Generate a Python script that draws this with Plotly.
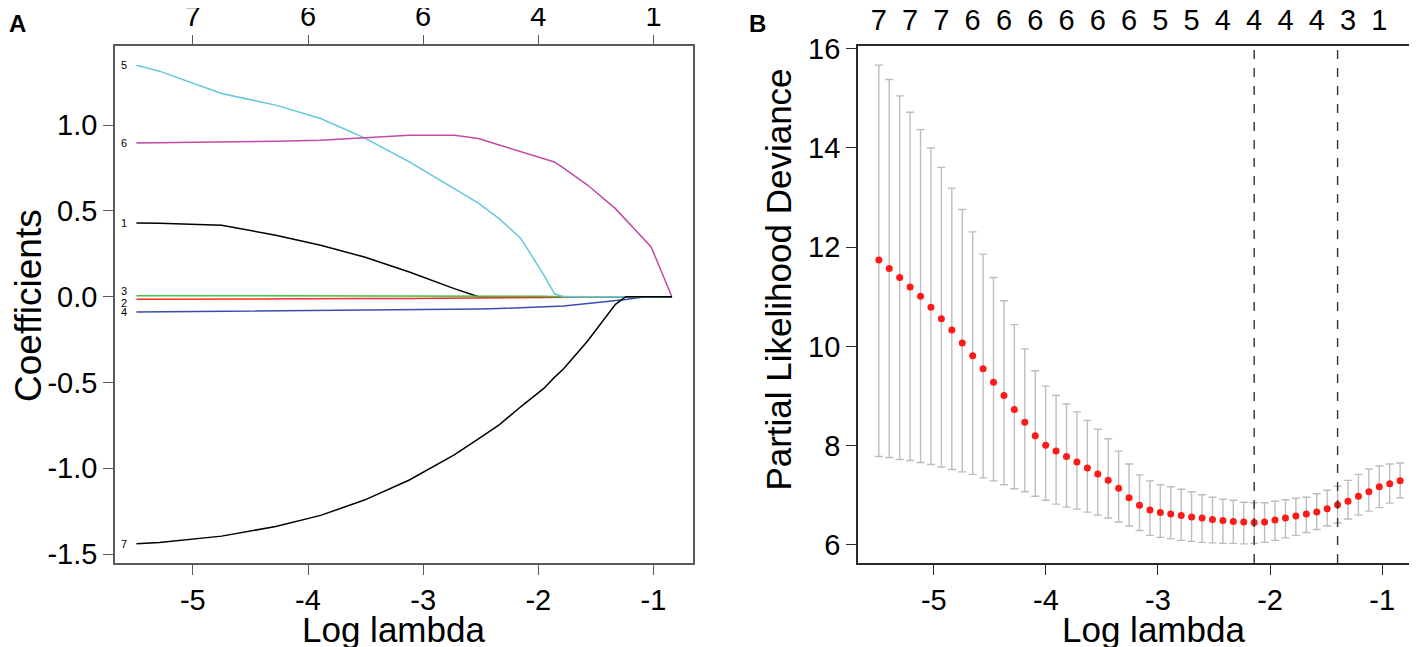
"""LASSO coefficient paths (A) and cross-validated partial likelihood deviance (B)."""

import numpy as np
import plotly.graph_objects as go

FONT = "Liberation Sans, Arial, sans-serif"

# ---- Panel A: coefficient paths -------------------------------------------
lam_a = [-5.49, -5.29, -4.75, -4.28, -3.89, -3.51, -3.12, -2.73, -2.52, -2.34,
         -2.15, -1.95, -1.86, -1.78, -1.57, -1.33, -1.24, -1.12, -1.02, -0.84]

coef_1 = [0.430, 0.428, 0.416, 0.358, 0.300, 0.231, 0.144, 0.047, 0.0, 0.0,
          0.0, 0.0, 0.0, 0.0, 0.0, 0.0, 0.0, 0.0, 0.0, 0.0]
coef_2 = [-0.015, -0.015, -0.014, -0.013, -0.012, -0.011, -0.010, -0.008, -0.007, -0.006,
          -0.004, -0.002, -0.001, 0.0, 0.0, 0.0, 0.0, 0.0, 0.0, 0.0]
coef_3 = [0.006, 0.006, 0.006, 0.006, 0.005, 0.005, 0.005, 0.004, 0.004, 0.004,
          0.003, 0.002, 0.001, 0.0, 0.0, 0.0, 0.0, 0.0, 0.0, 0.0]
coef_4 = [-0.089, -0.088, -0.086, -0.084, -0.082, -0.080, -0.077, -0.074, -0.072, -0.069,
          -0.065, -0.060, -0.057, -0.054, -0.039, -0.025, -0.017, -0.005, 0.0, 0.0]
coef_5 = [1.349, 1.314, 1.184, 1.116, 1.038, 0.925, 0.785, 0.630, 0.545, 0.455,
          0.338, 0.124, 0.017, 0.0, 0.0, 0.0, 0.0, 0.0, 0.0, 0.0]
coef_6 = [0.896, 0.897, 0.900, 0.905, 0.912, 0.925, 0.940, 0.941, 0.922, 0.884,
          0.845, 0.804, 0.785, 0.749, 0.649, 0.513, 0.449, 0.367, 0.290, 0.0]
coef_7 = [-1.440, -1.432, -1.395, -1.339, -1.274, -1.185, -1.068, -0.922, -0.828, -0.747,
          -0.640, -0.533, -0.470, -0.420, -0.257, -0.045, 0.0, 0.0, 0.0, 0.0]

var_names = ["1", "2", "3", "4", "5", "6", "7"]
top_a_ticks = [-5, -4, -3, -2, -1]
top_a_labels = ["7", "6", "6", "4", "1"]

# ---- Panel B: cross-validation curve ----------------------------------------
lam_b = [-5.490, -5.397, -5.304, -5.211, -5.118, -5.025, -4.932, -4.839, -4.746, -4.653,
         -4.560, -4.467, -4.374, -4.281, -4.188, -4.095, -4.002, -3.909, -3.816, -3.723,
         -3.630, -3.537, -3.444, -3.351, -3.258, -3.165, -3.072, -2.979, -2.886, -2.793,
         -2.700, -2.607, -2.514, -2.421, -2.328, -2.235, -2.142, -2.049, -1.956, -1.863,
         -1.770, -1.677, -1.584, -1.491, -1.398, -1.305, -1.212, -1.119, -1.026, -0.933,
         -0.840]
cvm = [11.74, 11.57, 11.39, 11.20, 11.01, 10.79, 10.56, 10.33, 10.07, 9.81,
       9.55, 9.28, 9.01, 8.73, 8.47, 8.20, 8.01, 7.89, 7.78, 7.67,
       7.55, 7.43, 7.30, 7.14, 6.95, 6.80, 6.70, 6.65, 6.62, 6.59,
       6.56, 6.54, 6.51, 6.49, 6.47, 6.46, 6.45, 6.46, 6.50, 6.54,
       6.58, 6.62, 6.66, 6.73, 6.81, 6.88, 6.98, 7.07, 7.17, 7.23,
       7.29]
cvup = [15.67, 15.38, 15.05, 14.72, 14.37, 14.00, 13.61, 13.19, 12.76, 12.31,
        11.86, 11.39, 10.92, 10.44, 9.95, 9.51, 9.20, 9.01, 8.84, 8.68,
        8.51, 8.33, 8.14, 7.89, 7.63, 7.41, 7.29, 7.21, 7.17, 7.12,
        7.07, 7.01, 6.96, 6.92, 6.90, 6.86, 6.85, 6.85, 6.88, 6.91,
        6.94, 6.96, 7.03, 7.10, 7.18, 7.30, 7.42, 7.53, 7.59, 7.63,
        7.65]
cvlo = [7.78, 7.76, 7.72, 7.70, 7.66, 7.62, 7.57, 7.52, 7.47, 7.42,
        7.35, 7.29, 7.21, 7.13, 7.07, 6.98, 6.90, 6.82, 6.76, 6.72,
        6.66, 6.60, 6.54, 6.46, 6.38, 6.29, 6.19, 6.15, 6.12, 6.09,
        6.07, 6.05, 6.04, 6.03, 6.03, 6.02, 6.03, 6.05, 6.09, 6.14,
        6.19, 6.25, 6.31, 6.38, 6.44, 6.52, 6.60, 6.68, 6.75, 6.84,
        6.95]
top_b_labels = ["7", "7", "7", "6", "6", "6", "6", "6", "6", "5", "5", "4", "4", "4", "4", "3", "1"]
log_lambda_min = -2.142
log_lambda_1se = -1.398


def r_range(values):
    """R style axis range: data extent padded by 4% on each side."""
    lo, hi = float(np.min(values)), float(np.max(values))
    pad = (hi - lo) * 0.04
    return [lo - pad, hi + pad]


coefs = [coef_1, coef_2, coef_3, coef_4, coef_5, coef_6, coef_7]
colors = ["#000000", "#FF2A2A", "#3CC43C", "#3A4CB0", "#62C8DA", "#C24AA6", "#000000"]
label_yshift = [0, -4, 5, 0, 0, 0, 0]

fig = go.Figure()

for name, ys, col in zip(var_names, coefs, colors):
    fig.add_trace(go.Scatter(x=lam_a, y=ys, mode="lines", line=dict(color=col, width=1.5),
                             name=name, xaxis="x", yaxis="y", showlegend=False))

cvm_arr = np.array(cvm)
fig.add_trace(go.Scatter(
    x=lam_b, y=cvm, mode="markers", xaxis="x2", yaxis="y2", showlegend=False,
    marker=dict(color="#FF1A1A", size=7),
    error_y=dict(type="data", symmetric=False,
                 array=np.array(cvup) - cvm_arr, arrayminus=cvm_arr - np.array(cvlo),
                 color="#BDBDBD", thickness=1.4, width=4),
))

# empty traces so the top axes get their own subplots
fig.add_trace(go.Scatter(x=[], y=[], xaxis="x3", yaxis="y", showlegend=False))
fig.add_trace(go.Scatter(x=[], y=[], xaxis="x4", yaxis="y2", showlegend=False))

xr_a = r_range(lam_a)
yr_a = r_range(np.concatenate(coefs))
xr_b = r_range(lam_b)
yr_b = r_range(np.concatenate([cvup, cvlo]))

tick_font = dict(family=FONT, size=29, color="black")
gray_a = "#5A5A5A"
gray_b = "#2A2A2A"

common = dict(showgrid=False, zeroline=False, showline=True, mirror=True, automargin=False,
              ticks="outside", ticklen=10, tickfont=tick_font)
top_common = dict(showgrid=False, zeroline=False, showline=False, automargin=False,
                  ticks="outside", tickfont=tick_font)

fig.update_layout(
    width=1417, height=647,
    margin=dict(l=107, r=4, t=38, b=92, autoexpand=False),
    plot_bgcolor="white", paper_bgcolor="white",
    font=dict(family=FONT, color="black"),
    xaxis=dict(domain=[0, 0.4428], anchor="y", range=xr_a, tickvals=[-5, -4, -3, -2, -1],
               ticktext=["-5", "-4", "-3", "-2", "-1"], linecolor=gray_a, tickcolor=gray_a,
               linewidth=1.6, tickwidth=1.4, **common),
    yaxis=dict(domain=[0, 1], anchor="x", range=yr_a, tickvals=[-1.5, -1.0, -0.5, 0.0, 0.5, 1.0],
               ticktext=["-1.5", "-1.0", "-0.5", "0.0", "0.5", "1.0"], linecolor=gray_a,
               tickcolor=gray_a, linewidth=1.6, tickwidth=1.4, **common),
    xaxis3=dict(overlaying="x", side="top", anchor="y", range=xr_a, tickvals=top_a_ticks,
                ticktext=top_a_labels, ticklen=10, tickcolor=gray_a, tickwidth=1.4,
                ticklabelstandoff=-3, **top_common),
    xaxis2=dict(domain=[0.5689, 1], anchor="y2", range=xr_b, tickvals=[-5, -4, -3, -2, -1],
                ticktext=["-5", "-4", "-3", "-2", "-1"], linecolor=gray_b, tickcolor=gray_b,
                linewidth=1.8, tickwidth=1.4, **common),
    yaxis2=dict(domain=[0, 1], anchor="x2", range=yr_b, tickvals=[6, 8, 10, 12, 14, 16],
                linecolor=gray_b, tickcolor=gray_b, linewidth=1.8, tickwidth=1.4, **common),
    xaxis4=dict(overlaying="x2", side="top", anchor="y2", range=xr_b, tickvals=lam_b[::3],
                ticktext=top_b_labels, ticklen=3, tickcolor="rgba(0,0,0,0)", **top_common),
)

# dashed reference lines at lambda.min and lambda.1se
for v in (log_lambda_min, log_lambda_1se):
    fig.add_shape(type="line", xref="x2", yref="y2 domain", x0=v, x1=v, y0=0, y1=1,
                  line=dict(color="#333333", width=1.4, dash="dash"))

# variable labels at the left end of each path
for name, ys, dy in zip(var_names, coefs, label_yshift):
    fig.add_annotation(x=lam_a[0], y=ys[0], xref="x", yref="y", text=name, showarrow=False,
                       xanchor="right", xshift=-7, yshift=dy,
                       font=dict(family=FONT, size=11, color="black"))

title_font = dict(family=FONT, size=35, color="black")
fig.add_annotation(x=0.2133, y=-0.1295, xref="paper", yref="paper", text="Log lambda",
                   showarrow=False, xanchor="center", yanchor="middle", font=title_font)
fig.add_annotation(x=0.7953, y=-0.1295, xref="paper", yref="paper", text="Log lambda",
                   showarrow=False, xanchor="center", yanchor="middle", font=title_font)
fig.add_annotation(x=-0.0663, y=0.498, xref="paper", yref="paper", text="Coefficients",
                   showarrow=False, textangle=-90, xanchor="center", yanchor="middle",
                   font=dict(family=FONT, size=37, color="black"))
fig.add_annotation(x=0.508, y=0.549, xref="paper", yref="paper",
                   text="Partial Likelihood Deviance", showarrow=False, textangle=-90,
                   xanchor="center", yanchor="middle", font=title_font)

# panel letters
letter_font = dict(family=FONT, size=24, color="black")
fig.add_annotation(x=-0.0743, y=1.0435, xref="paper", yref="paper", text="<b>A</b>",
                   showarrow=False, xanchor="center", yanchor="middle", font=letter_font)
fig.add_annotation(x=0.4923, y=1.0435, xref="paper", yref="paper", text="<b>B</b>",
                   showarrow=False, xanchor="center", yanchor="middle", font=letter_font)

fig.write_html("out.html")
